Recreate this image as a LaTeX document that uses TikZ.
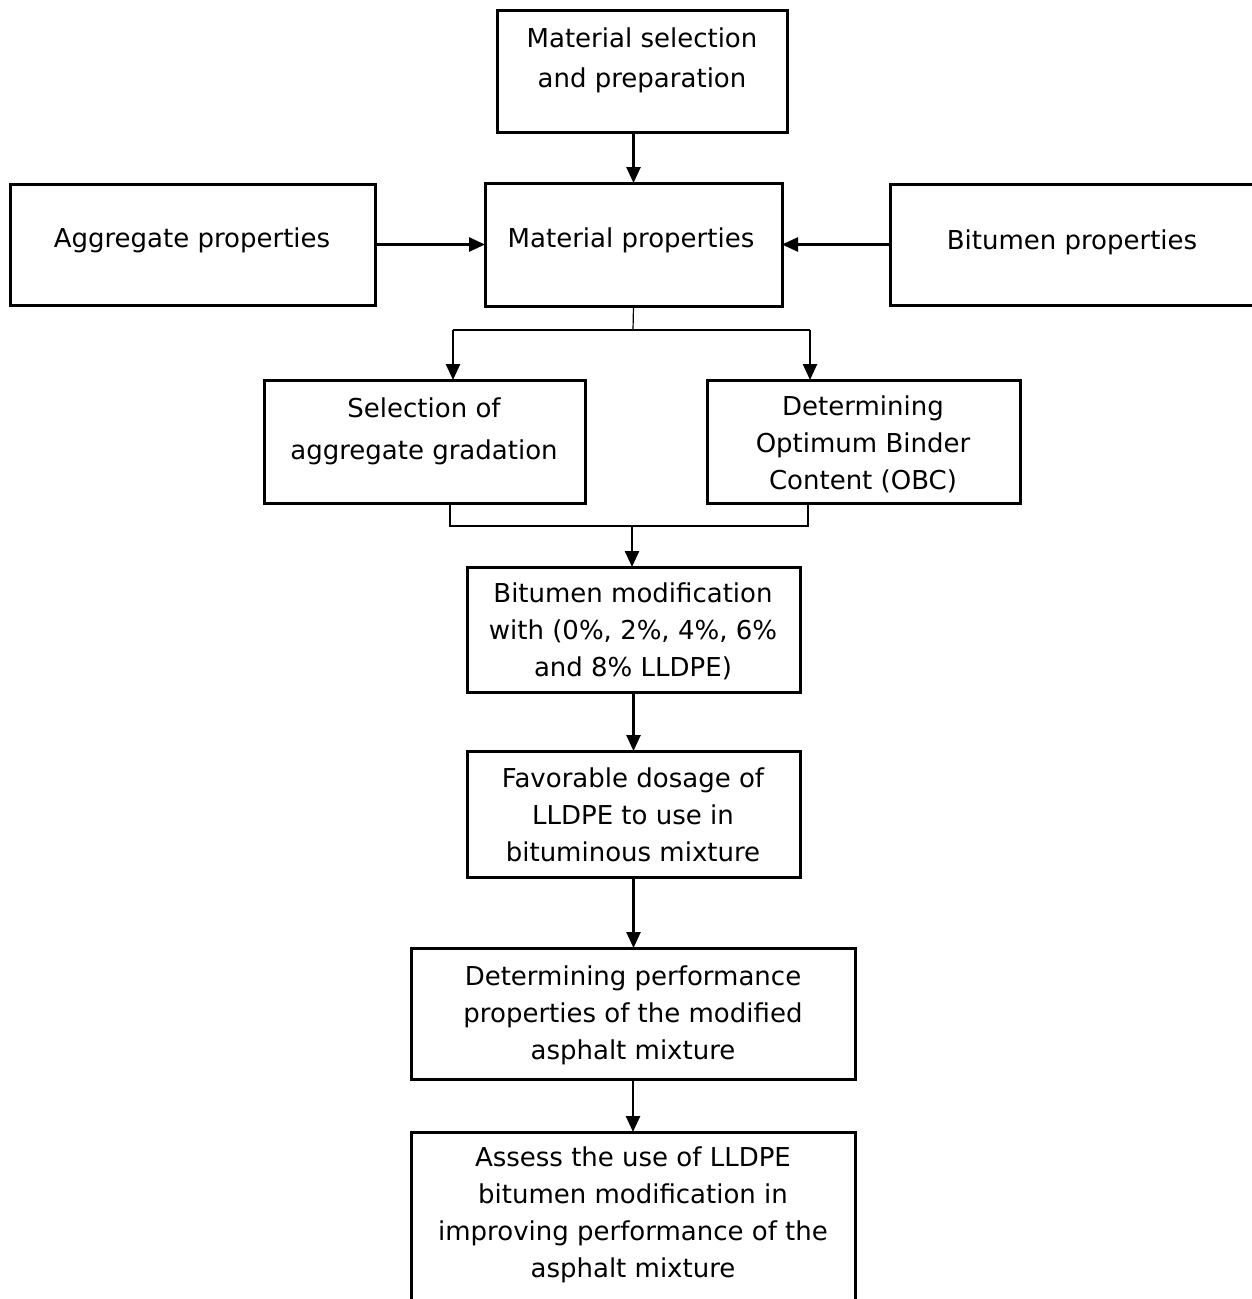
\documentclass[tikz,border=0pt]{standalone}
\usepackage{fontspec}
\setmainfont{DejaVu Sans}
\usetikzlibrary{arrows.meta}
\begin{document}
\begin{tikzpicture}[x=1pt,y=-1pt,
  box/.style={draw, line width=3pt, inner sep=0pt, outer sep=0pt},
  txt/.style={align=center, inner sep=0pt, font=\fontsize{26}{37}\selectfont},
  arr/.style={line width=2.5pt, -{Triangle[length=16pt,width=14pt]}},
  thinline/.style={line width=1.2pt}]
\useasboundingbox (0,0) rectangle (1252,1299);

% boxes
\node[box, minimum width=290, minimum height=122] (top) at (642,71) {};
\node[box, minimum width=297, minimum height=123] (mat) at (633.5,244.5) {};
\node[box, minimum width=365, minimum height=121] (agg) at (192.5,244.5) {};
\node[box, minimum width=380, minimum height=121] (bit) at (1080,244.5) {};
\node[box, minimum width=321, minimum height=123] (sel) at (424.5,441.5) {};
\node[box, minimum width=313, minimum height=123] (obc) at (863.5,441.5) {};
\node[box, minimum width=333, minimum height=125] (bm) at (633.5,629.5) {};
\node[box, minimum width=333, minimum height=126] (fav) at (633.5,814) {};
\node[box, minimum width=444, minimum height=131] (perf) at (633,1013.5) {};
\node[box, minimum width=444, minimum height=178] (assess) at (633,1221) {};

% texts
\node[txt, font=\fontsize{26}{40}\selectfont] (ttop) at (642,60) {Material selection\\and preparation};
\node[txt] (tmat) at (631,240) {Material properties};
\node[txt] (tagg) at (192,240) {Aggregate properties};
\node[txt] (tbit) at (1072,242) {Bitumen properties};
\node[txt, font=\fontsize{26}{42}\selectfont] (tsel) at (424,431) {Selection of\\aggregate gradation};
\node[txt] (tobc) at (863,444) {Determining\\Optimum Binder\\Content (OBC)};
\node[txt] (tbm) at (633,631) {Bitumen modification\\with (0\%, 2\%, 4\%, 6\%\\and 8\% LLDPE)};
\node[txt] (tfav) at (633,815) {Favorable dosage of\\LLDPE to use in\\bituminous mixture};
\node[txt] (tperf) at (633,1015) {Determining performance\\properties of the modified\\asphalt mixture};
\node[txt] (tassess) at (633,1215) {Assess the use of LLDPE\\bitumen modification in\\improving performance of the\\asphalt mixture};

% connectors
\draw[arr] (top.south -| mat.north) -- (mat.north);
\draw[arr] (agg.east) -- (mat.west);
\draw[arr] (bit.west) -- (mat.east);

\coordinate (sj) at (633,330);
\coordinate (sl) at (453,330);
\coordinate (sr) at (810,330);
\draw[thinline] (mat.south) -- (sj);
\draw[thinline] (sl) -- (sr);
\draw[arr] (sl) -- (sl |- sel.north);
\draw[arr] (sr) -- (sr |- obc.north);

\coordinate (ml) at (450,526);
\coordinate (mr) at (808,526);
\coordinate (mj) at (632,526);
\draw[thinline] (sel.south -| ml) -- (ml) -- (mr) -- (obc.south -| mr);
\draw[arr] (mj) -- (mj |- bm.north);

\draw[arr] (bm.south) -- (fav.north);
\draw[arr] (fav.south) -- (fav.south |- perf.north);
\draw[arr] (perf.south) -- (assess.north);
\end{tikzpicture}
\end{document}
